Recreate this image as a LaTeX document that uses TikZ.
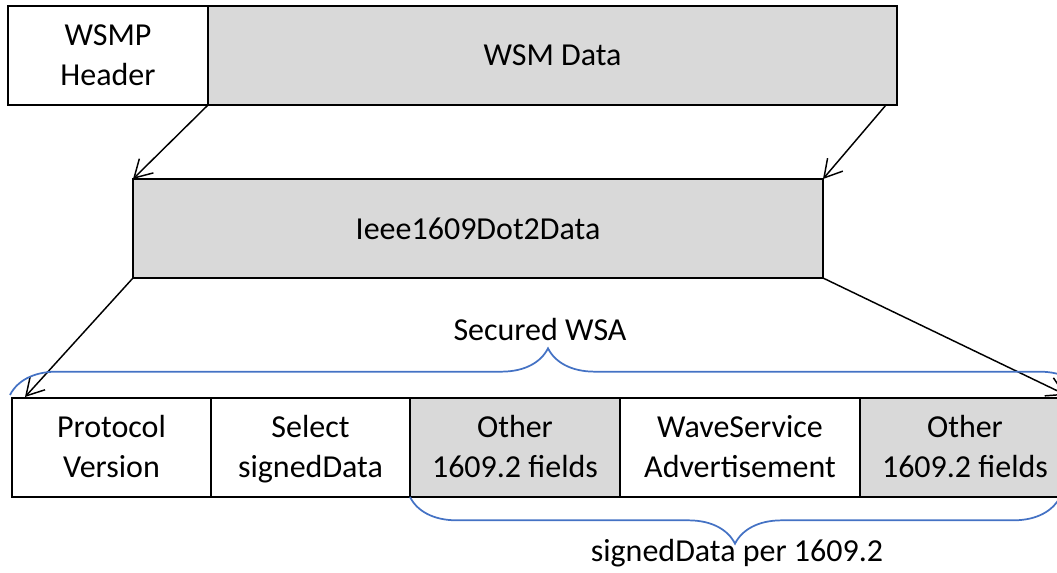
\documentclass[tikz,border=0pt]{standalone}
\usepackage{fontspec}
\setmainfont{Carlito}
\usetikzlibrary{positioning,arrows.meta,decorations.pathreplacing}
\definecolor{fieldgray}{RGB}{217,217,217}
\definecolor{braceblue}{RGB}{68,114,196}
\newcommand{\fstrut}{\rule[-5pt]{0pt}{25pt}}

\begin{document}
\begin{tikzpicture}[x=0.75pt,y=0.75pt,yscale=-1,xscale=1,
  every node/.style={font=\fontsize{24pt}{29.3pt}\selectfont},
  field/.style={draw, line width=1pt, inner sep=0pt, outer sep=0pt, align=center, minimum height=74.25pt},
  shaded/.style={field, fill=fieldgray},
  arr/.style={line width=1.1pt, -{Straight Barb[length=13pt,width=15pt,line width=1.1pt]}},
  curly/.style={draw=braceblue, line width=1.3pt, decorate, decoration={brace, amplitude=35pt}}]
\useasboundingbox (0,0) rectangle (1057,573);

%Shape: Rectangle [id:hdr] 
\node[field, minimum width=150pt, anchor=north west] (hdr) at (8,6) {\fstrut WSMP\\\fstrut Header};
\node[shaded, minimum width=516.75pt, right=0pt of hdr] (wsm) {WSM Data};
%Shape: Rectangle [id:dot2] 
\node[shaded, minimum width=517.5pt, anchor=north west] (dot2) at (133,179) {Ieee1609Dot2Data};
%Shape: Rectangle row [id:fields] 
\node[field, minimum width=149.25pt, anchor=north west] (proto) at (12,398) {\fstrut Protocol\\\fstrut Version};
\node[field, minimum width=149.25pt, right=0pt of proto] (sel) {\fstrut Select\\\fstrut signedData};
\node[shaded, minimum width=157.5pt, right=0pt of sel] (oth1) {\fstrut Other\\\fstrut 1609.2 fields};
\node[field, minimum width=180pt, right=0pt of oth1] (wsa) {\fstrut WaveService\\\fstrut Advertisement};
\node[shaded, minimum width=157.5pt, right=0pt of wsa] (oth2) {\fstrut Other\\\fstrut 1609.2 fields};

%Straight Lines [id:arrows] 
\coordinate (wsmfoot) at (886,105);
\coordinate (protohead) at (25,397);
\coordinate (oth2head) at (1066,395);
\draw[arr] (wsm.south west) -- (dot2.north west);
\draw[arr] (wsmfoot) -- (dot2.north east);
\draw[arr] (dot2.south west) -- (protohead);
\draw[arr] (dot2.south east) -- (oth2head);

%Shape: Brace [id:braces] 
\coordinate (wsaL) at (10,395);
\coordinate (wsaR) at (1086,395);
\draw[curly] (wsaL) -- (wsaR);
\coordinate (sigL) at (410,497);
\coordinate (sigR) at (1060,497);
\draw[curly, decoration={mirror}] (sigL) -- (sigR);

% Text Node
\node (securedlbl) at (540,330) {Secured WSA};
% Text Node
\node (signedlbl) at (737,553) {signedData per 1609.2};

\end{tikzpicture}
\end{document}
